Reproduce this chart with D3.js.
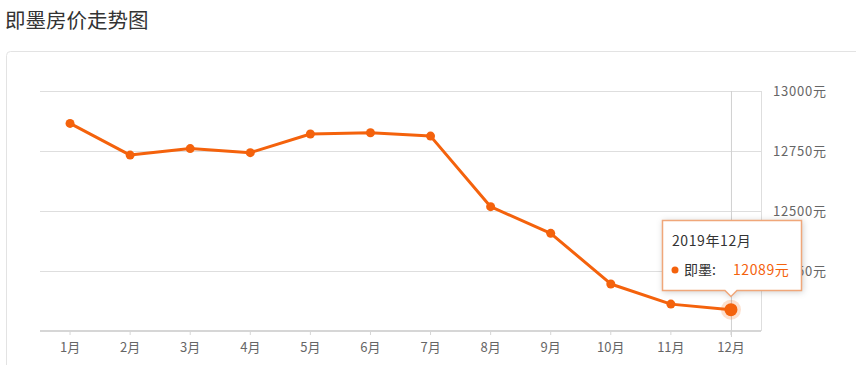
<!DOCTYPE html>
<html><head><meta charset="utf-8">
<script src="https://cdn.jsdelivr.net/npm/d3@7/dist/d3.min.js"></script>
<style>body{margin:0;background:#fff;}svg{display:block;font-family:"Noto Sans CJK SC","Noto Sans",sans-serif;}</style>
</head><body>
<svg id="c" width="856" height="365"></svg>
<script>
const title = "即墨房价走势图";
const months = ["1月","2月","3月","4月","5月","6月","7月","8月","9月","10月","11月","12月"];
const prices = [12865,12733,12760,12743,12821,12826,12812,12518,12407,12196,12112,12089];
const yTicks = [12000,12250,12500,12750,13000];
const seriesName = "即墨";
const tipTitle = "2019年12月";
const hiIndex = 11;

const svg = d3.select("#c");
const orange = "#f4620c";

svg.append("text").attr("x",5).attr("y",28).attr("font-size",20.5).attr("fill","#333").text(title);
svg.append("rect").attr("x",6.5).attr("y",51.5).attr("width",900).attr("height",400).attr("rx",4)
  .attr("fill","#fff").attr("stroke","#e3e3e3");

const x = d3.scaleBand().domain(months).range([40,761]);
const y = d3.scaleLinear().domain([12000,13000]).range([331,91]);

// grid
svg.append("g").selectAll("line").data(yTicks.slice(1)).join("line")
  .attr("x1",40).attr("x2",761).attr("y1",d=>Math.round(y(d))+0.5).attr("y2",d=>Math.round(y(d))+0.5)
  .attr("stroke","#dedede");
// right border
svg.append("line").attr("x1",761.5).attr("x2",761.5).attr("y1",91).attr("y2",331).attr("stroke","#dedede");

// x axis
const xAxis = d3.axisBottom(x).tickSize(4).tickPadding(8);
const gx = svg.append("g").attr("transform","translate(0,331)").call(xAxis);
gx.select(".domain").attr("stroke","#d6d6d6").attr("stroke-width",2).attr("d","M40,0H761");
gx.selectAll(".tick line").attr("stroke","#d6d6d6");
gx.selectAll(".tick text").attr("font-size",13).attr("fill","#666").attr("font-family","Noto Sans CJK SC");

// y labels (right)
const yAxis = d3.axisRight(y).tickValues(yTicks.slice(1)).tickSize(0).tickPadding(12).tickFormat(d=>d+"元");
const gy = svg.append("g").attr("transform","translate(761,0)").call(yAxis);
gy.select(".domain").remove();
gy.selectAll(".tick text").attr("font-size",13).attr("letter-spacing",0.8).attr("fill","#666").attr("font-family","Noto Sans CJK SC");

// crosshair
const cx = x(months[hiIndex]) + x.bandwidth()/2;
svg.append("line").attr("x1",cx+0.5).attr("x2",cx+0.5).attr("y1",91).attr("y2",337).attr("stroke","#d0d0d0");

// line
const px = (d,i)=>x(months[i])+x.bandwidth()/2;
svg.append("path").datum(prices)
  .attr("d",d3.line().x(px).y(d=>y(d)))
  .attr("fill","none").attr("stroke",orange).attr("stroke-width",3).attr("stroke-linejoin","round");
svg.append("g").selectAll("circle").data(prices).join("circle")
  .attr("cx",px).attr("cy",d=>y(d)).attr("r",(d,i)=>i===hiIndex?0:4.5).attr("fill",orange);
// highlight
const hy = y(prices[hiIndex]);
svg.append("circle").attr("cx",cx).attr("cy",hy).attr("r",10).attr("fill",orange).attr("opacity",0.2);
svg.append("circle").attr("cx",cx).attr("cy",hy).attr("r",6.5).attr("fill",orange);

// tooltip
const tx0 = 662.5, ty0 = 220.5, tw = 139, th = 70;
const tip = svg.append("g");
tip.append("path")
  .attr("d",`M${tx0},${ty0}H${tx0+tw}V${ty0+th}H${cx+6}L${cx},${ty0+th+6}L${cx-6},${ty0+th}H${tx0}Z`)
  .attr("fill","#fff").attr("stroke","#f0a77a").attr("stroke-width",1.5)
  .style("filter","drop-shadow(1px 1px 3px rgba(0,0,0,0.18))");
tip.append("text").attr("x",672).attr("y",246).attr("font-size",14).attr("letter-spacing",0.6).attr("fill","#333").text(tipTitle);
tip.append("circle").attr("cx",675).attr("cy",270).attr("r",3.5).attr("fill",orange);
tip.append("text").attr("x",684).attr("y",275).attr("font-size",14).attr("fill","#333").text(seriesName+":");
tip.append("text").attr("x",733).attr("y",275).attr("font-size",14).attr("letter-spacing",0.6).attr("fill",orange).text(prices[hiIndex]+"元");
</script>
</body></html>
